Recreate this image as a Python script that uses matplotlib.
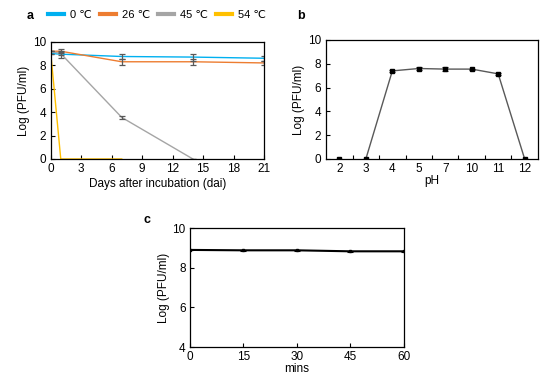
import matplotlib
matplotlib.use("Agg")
import matplotlib.pyplot as plt
import numpy as np

plt.rcParams['font.family'] = ['Liberation Sans', 'DejaVu Sans']
plt.rcParams['font.size'] = 8.5

# Panel a data
days = [0, 1, 7, 14, 21]
t0 = [9.0, 8.95, 8.75, 8.7, 8.6]
t0_err = [0.0, 0.3, 0.25, 0.3, 0.2]
t26 = [9.2, 9.2, 8.3, 8.3, 8.2]
t26_err = [0.0, 0.15, 0.25, 0.25, 0.15]
days45 = [0, 1, 7, 14]
t45 = [9.2, 9.0, 3.55, 0.0]
t45_err = [0.0, 0.1, 0.12, 0.0]
days54 = [0, 1, 7]
t54 = [9.2, 0.0, 0.0]
temp_labels = ['0 \u2103', '26 \u2103', '45 \u2103', '54 \u2103']
temp_colors = ['#00B0F0', '#ED7D31', '#A5A5A5', '#FFC000']

# Panel b data
ph_labels = ['2', '3', '4', '5', '7', '10', '11', '12']
ph_vals = [0.0, 0.0, 7.4, 7.6, 7.55, 7.55, 7.15, 0.0]
ph_err = [0.0, 0.0, 0.08, 0.12, 0.2, 0.05, 0.1, 0.0]

# Panel c data
mins = [0, 15, 30, 45, 60]
c_vals = [8.9, 8.88, 8.88, 8.83, 8.83]
c_err = [0.02, 0.02, 0.02, 0.04, 0.02]

fs = 8.5
fig = plt.figure(figsize=(5.5, 3.84), dpi=100)

def style(ax):
    ax.tick_params(direction='in', length=3, width=0.8, labelsize=fs, pad=3)
    for s in ax.spines.values():
        s.set_linewidth(0.9)

# Panel a
axa = fig.add_axes([0.092, 0.586, 0.388, 0.305])
series = [(days, t0, t0_err), (days, t26, t26_err), (days45, t45, t45_err), (days54, t54, None)]
for (x, y, e), col, lab in zip(series, temp_colors, temp_labels):
    axa.plot(x, y, color=col, lw=1.0, label=lab)
for (x, y, e) in series:
    if e is not None:
        axa.errorbar(x, y, yerr=e, fmt='none', ecolor='#595959', elinewidth=0.9, capsize=2, capthick=0.9)
axa.set_xlim(0, 21)
axa.set_ylim(0, 10)
axa.set_xticks(range(0, 22, 3))
axa.set_yticks(range(0, 11, 2))
axa.set_xlabel('Days after incubation (dai)', fontsize=fs, labelpad=2)
axa.set_ylabel('Log (PFU/ml)', fontsize=fs, labelpad=2)
style(axa)
leg_handles = [plt.Line2D([], [], color=c, lw=3) for c in temp_colors]
fig.legend(leg_handles, temp_labels, loc='center', bbox_to_anchor=(0.285, 0.962), ncol=4,
           frameon=False, fontsize=8, handlelength=1.5, columnspacing=0.7, handletextpad=0.5,
           borderpad=0.1)
fig.text(0.055, 0.958, 'a', fontsize=9, fontweight='bold', ha='center', va='center')

# Panel b
axb = fig.add_axes([0.593, 0.586, 0.385, 0.31])
xb = np.arange(len(ph_labels))
axb.plot(xb[1:], ph_vals[1:], color='#595959', lw=1.0)
axb.errorbar(xb, ph_vals, yerr=ph_err, fmt='s', color='black', ms=2.2, ecolor='#333333',
             elinewidth=0.8, capsize=2, capthick=0.8)
axb.set_xlim(-0.5, len(ph_labels) - 0.5)
axb.set_ylim(0, 10)
axb.set_xticks(xb)
axb.set_xticklabels(ph_labels)
axb.set_xticks(xb[:-1] + 0.5, minor=True)
axb.tick_params(axis='x', which='major', length=0)
axb.tick_params(axis='x', which='minor', direction='in', length=3, width=0.8)
axb.set_yticks(range(0, 11, 2))
axb.set_xlabel('pH', fontsize=fs, labelpad=0)
axb.set_ylabel('Log (PFU/ml)', fontsize=fs, labelpad=2)
axb.tick_params(axis='y', direction='in', length=3, width=0.8, labelsize=fs)
axb.tick_params(axis='x', labelsize=fs, pad=3)
for s in axb.spines.values():
    s.set_linewidth(0.9)
fig.text(0.548, 0.958, 'b', fontsize=9, fontweight='bold', ha='center', va='center')

# Panel c
axc = fig.add_axes([0.345, 0.096, 0.389, 0.31])
axc.errorbar(mins, c_vals, yerr=c_err, fmt='s', color='black', ms=2.0, ls='-', lw=1.5,
             ecolor='black', elinewidth=0.8, capsize=2, capthick=0.8)
axc.set_xlim(0, 60)
axc.set_ylim(4, 10)
axc.set_xticks(range(0, 61, 15))
axc.set_yticks(range(4, 11, 2))
axc.set_xlabel('mins', fontsize=fs, labelpad=0)
axc.set_ylabel('Log (PFU/ml)', fontsize=fs, labelpad=2)
style(axc)
fig.text(0.267, 0.428, 'c', fontsize=9, fontweight='bold', ha='center', va='center')

fig.savefig('out.png', dpi=100)
